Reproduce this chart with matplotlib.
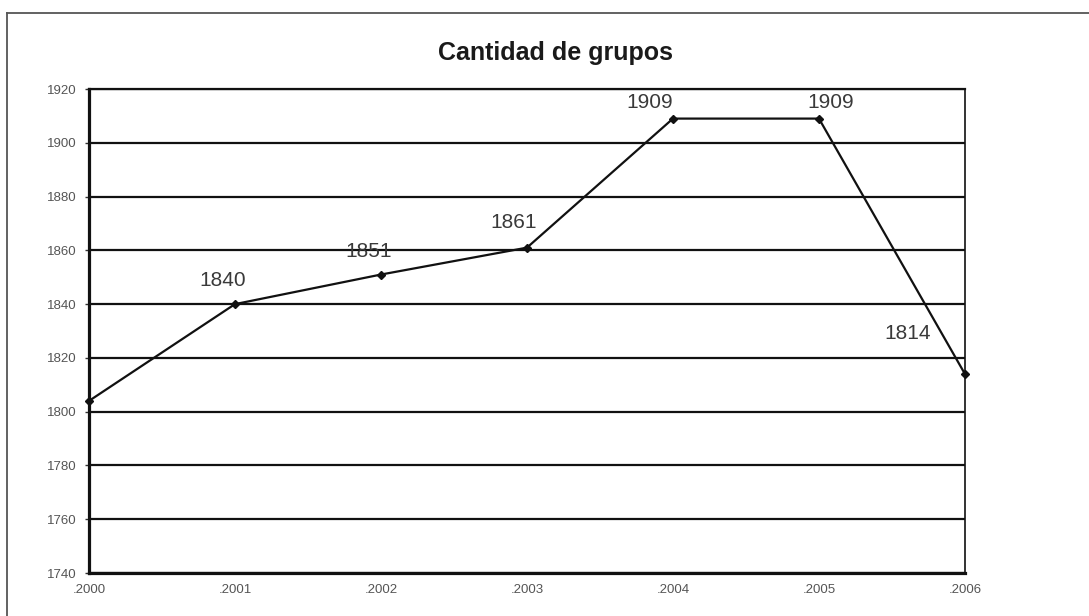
import matplotlib.pyplot as plt
from matplotlib.lines import Line2D

# Data
years = [2000, 2001, 2002, 2003, 2004, 2005, 2006]
grupos = [1804, 1840, 1851, 1861, 1909, 1909, 1814]
year_labels = [".2000", ".2001", ".2002", ".2003", ".2004", ".2005", ".2006"]
y_ticks = [1740, 1760, 1780, 1800, 1820, 1840, 1860, 1880, 1900, 1920]

# label offsets in pixels (dx, dy) from each point; None = no label
label_offsets = [None, (-12, 14), (-12, 14), (-13, 16), (-23, 7), (12, 7), (-57, 31)]

plt.rcParams['font.family'] = ['Liberation Sans', 'DejaVu Sans']

fig = plt.figure(figsize=(10.89, 6.16), dpi=100)
ax = fig.add_axes([0.0817, 0.0698, 0.8044, 0.7857])

# horizontal grid lines
for v in y_ticks:
    ax.axhline(v, color='#111111', linewidth=1.6, zorder=1)

ax.plot(years, grupos, color='#111111', linewidth=1.6, marker='D',
        markersize=4.5, zorder=3, clip_on=False)

for x, y, off in zip(years, grupos, label_offsets):
    if off is None:
        continue
    ax.annotate(str(y), (x, y), xytext=off, textcoords='offset pixels',
                ha='center', va='bottom', fontsize=15, color='#3a3a3a',
                zorder=2)

ax.set_xlim(2000, 2006)
ax.set_ylim(1740, 1920)
ax.set_yticks(y_ticks)
ax.set_xticks(years)
ax.set_xticklabels(year_labels)

ax.tick_params(axis='y', length=3, width=1, color='#333333', pad=6,
               labelsize=9.5, labelcolor='#555555')
ax.tick_params(axis='x', length=0, pad=8, labelsize=9.5, labelcolor='#555555')

ax.spines['left'].set_linewidth(2.3)
ax.spines['bottom'].set_linewidth(2.3)
ax.spines['top'].set_linewidth(1.6)
ax.spines['right'].set_linewidth(1.2)
for s in ax.spines.values():
    s.set_color('#111111')

fig.text(0.51, 0.914, "Cantidad de grupos", ha='center', va='center',
         fontsize=18, fontweight='bold', color='#1a1a1a')

# outer frame (only left and top edges visible)
fig.add_artist(Line2D([0.0064, 0.0064], [0.0, 0.979], color='#555555', linewidth=1.3))
fig.add_artist(Line2D([0.0064, 1.0], [0.979, 0.979], color='#555555', linewidth=1.3))

fig.savefig("out.png", dpi=100)
